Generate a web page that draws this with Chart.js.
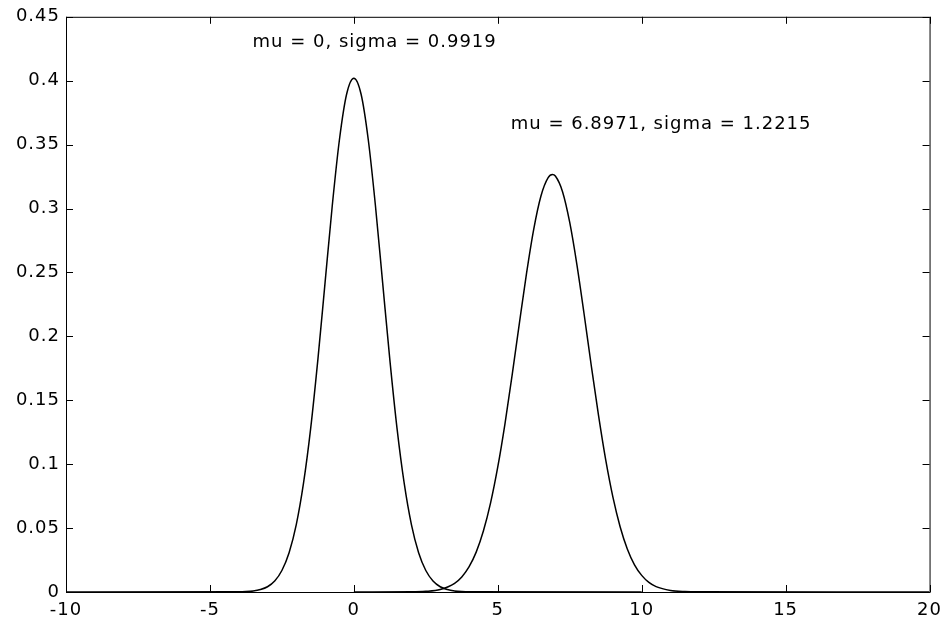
<!DOCTYPE html>
<html>
<head>
<meta charset="utf-8">
<script src="https://cdn.jsdelivr.net/npm/chart.js@4"></script>
<style>
  html, body { margin:0; padding:0; background:#fff; }
  #wrap { width:949px; height:618px; position:relative; }
</style>
</head>
<body>
<div id="wrap"><canvas id="chart"></canvas></div>
<script>
// curve 1 (mu = 0, sigma = 0.9919)
const x1 = [-10, -4, -3.75, -3.5, -3.25, -3, -2.75, -2.5, -2.25, -2, -1.75, -1.5, -1.25, -1, -0.75, -0.5, -0.25,
            0, 0.25, 0.5, 0.75, 1, 1.25, 1.5, 1.75, 2, 2.25, 2.5, 2.75, 3, 3.25, 3.5, 3.75, 4, 10];
const y1 = [0, 0.0001, 0.0003, 0.0008, 0.0019, 0.0041, 0.0086, 0.0168, 0.0307, 0.0527, 0.0849, 0.128, 0.1818, 0.242, 0.3022, 0.354, 0.3896,
            0.402, 0.3896, 0.354, 0.3022, 0.242, 0.1818, 0.128, 0.0849, 0.0527, 0.0307, 0.0168, 0.0086, 0.0041, 0.0019, 0.0008, 0.0003, 0.0001, 0];

// curve 2 (mu = 6.8971, sigma = 1.2215)
const x2 = [0, 2, 2.5, 3, 3.5, 3.75, 4, 4.25, 4.5, 4.75, 5, 5.25, 5.5, 5.75, 6, 6.25, 6.5, 6.75, 6.9, 7, 7.25, 7.5, 7.75,
            8, 8.25, 8.5, 8.75, 9, 9.25, 9.5, 9.75, 10, 10.25, 10.5, 11, 11.5, 12, 20];
const y2 = [0, 0.0001, 0.0005, 0.002, 0.0068, 0.0118, 0.0196, 0.0312, 0.0477, 0.0697, 0.0978, 0.1316, 0.1698, 0.2102, 0.2494, 0.2839, 0.3098, 0.3242, 0.3266, 0.3254, 0.3132, 0.2891, 0.256,
            0.2173, 0.1768, 0.1381, 0.1033, 0.0742, 0.0511, 0.0337, 0.0213, 0.013, 0.0075, 0.0042, 0.0012, 0.0003, 0.0001, 0];

const xTicks = [-10, -5, 0, 5, 10, 15, 20];
const xTickLabels = ['-10', '-5', '0', '5', '10', '15', '20'];
const yTicks = [0, 0.05, 0.1, 0.15, 0.2, 0.25, 0.3, 0.35, 0.4, 0.45];
const yTickLabels = ['0', '0.05', '0.1', '0.15', '0.2', '0.25', '0.3', '0.35', '0.4', '0.45'];

const noteTexts = ['mu = 0, sigma = 0.9919', 'mu = 6.8971, sigma = 1.2215'];
const noteX = [-3.52, 5.45];
const noteY = [0.430, 0.366];

const FONT = { family: '"DejaVu Sans", sans-serif', size: 18 };
const SPACING = '1px';
const TICK_LEN = 7;

const toPts = (xs, ys) => xs.map((x, i) => ({ x, y: ys[i] }));

// matlab-style box with inward ticks on all sides, plus text notes
const boxPlugin = {
  id: 'box',
  beforeDraw(chart){ chart.ctx.letterSpacing = SPACING; },
  afterDraw(chart){
    const { ctx, chartArea: a, scales: { x, y } } = chart;
    ctx.save();
    ctx.strokeStyle = '#000'; ctx.lineWidth = 1;
    ctx.strokeRect(a.left + 0.5, a.top + 0.5, a.right - a.left, a.bottom - a.top);
    ctx.beginPath();
    xTicks.forEach(v => {
      const px = Math.round(x.getPixelForValue(v)) + 0.5;
      ctx.moveTo(px, a.bottom); ctx.lineTo(px, a.bottom - TICK_LEN);
      ctx.moveTo(px, a.top); ctx.lineTo(px, a.top + TICK_LEN);
    });
    yTicks.forEach(v => {
      const py = Math.round(y.getPixelForValue(v)) + 0.5;
      ctx.moveTo(a.left, py); ctx.lineTo(a.left + TICK_LEN, py);
      ctx.moveTo(a.right, py); ctx.lineTo(a.right - TICK_LEN, py);
    });
    ctx.stroke();

    ctx.fillStyle = '#000';
    ctx.font = `${FONT.size}px ${FONT.family}`;
    ctx.letterSpacing = SPACING;
    ctx.textAlign = 'left'; ctx.textBaseline = 'middle';
    noteTexts.forEach((t, i) => ctx.fillText(t, x.getPixelForValue(noteX[i]), y.getPixelForValue(noteY[i])));
    ctx.restore();
  }
};

new Chart(document.getElementById('chart'), {
  type: 'scatter',
  data: {
    datasets: [
      { data: toPts(x1, y1), showLine: true, borderColor: '#000', borderWidth: 1.5, pointRadius: 0, cubicInterpolationMode: 'monotone' },
      { data: toPts(x2, y2), showLine: true, borderColor: '#000', borderWidth: 1.5, pointRadius: 0, cubicInterpolationMode: 'monotone' }
    ]
  },
  options: {
    responsive: true, maintainAspectRatio: false, animation: false,
    layout: { padding: { left: 0, top: 15, right: 17, bottom: 0 } },
    plugins: { legend: { display: false }, tooltip: { enabled: false } },
    scales: {
      x: {
        type: 'linear', min: -10, max: 20,
        grid: { display: false, drawTicks: false },
        border: { display: false },
        afterBuildTicks: s => { s.ticks = xTicks.map(v => ({ value: v })); },
        afterFit: s => { s.height = 26; },
        ticks: { color: '#000', font: FONT, padding: 8, maxRotation: 0,
                 callback: (v) => xTickLabels[xTicks.indexOf(v)] }
      },
      y: {
        type: 'linear', min: 0, max: 0.45,
        grid: { display: false, drawTicks: false },
        border: { display: false },
        afterBuildTicks: s => { s.ticks = yTicks.map(v => ({ value: v })); },
        afterFit: s => { s.width = 66; },
        ticks: { color: '#000', font: FONT, padding: 6,
                 callback: (v) => yTickLabels[yTicks.indexOf(v)] }
      }
    }
  },
  plugins: [boxPlugin]
});
</script>
</body>
</html>
